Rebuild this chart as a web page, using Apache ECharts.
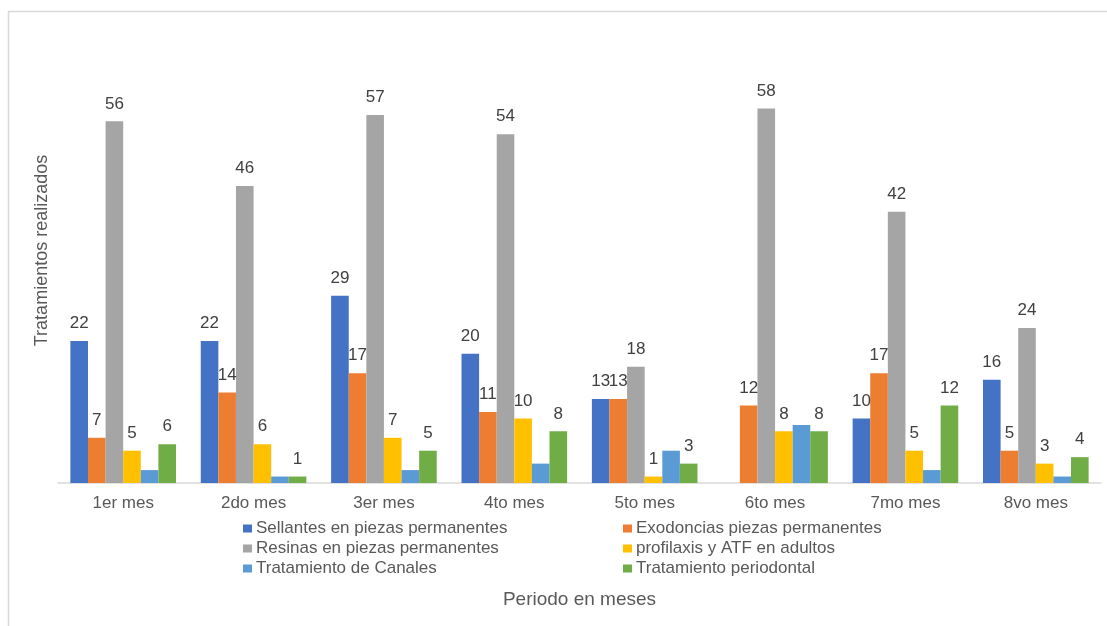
<!DOCTYPE html>
<html>
<head>
<meta charset="utf-8">
<script src="https://cdn.jsdelivr.net/npm/echarts@6/dist/echarts.min.js"></script>
<style>html,body{margin:0;padding:0;background:#fff;}#c{width:1107px;height:626px;}</style>
</head>
<body>
<div id="c"></div>
<script>
const categories = ['1er mes','2do mes','3er mes','4to mes','5to mes','6to mes','7mo mes','8vo mes'];
const seriesNames = ['Sellantes en piezas permanentes','Exodoncias piezas permanentes','Resinas en piezas permanentes','profilaxis y ATF en adultos','Tratamiento de Canales','Tratamiento periodontal'];
const sellantes = [22, 22, 29, 20, 13, null, 10, 16];
const exodoncias = [7, 14, 17, 11, 13, 12, 17, 5];
const resinas = [56, 46, 57, 54, 18, 58, 42, 24];
const profilaxis = [5, 6, 7, 10, 1, 8, 5, 3];
const canales = [2, 1, 2, 3, 5, 9, 2, 1];
const periodontal = [6, 1, 5, 8, 3, 8, 12, 4];
const colors = ['#4472C4','#ED7D31','#A5A5A5','#FFC000','#5B9BD5','#70AD47'];
const values = [sellantes, exodoncias, resinas, profilaxis, canales, periodontal];
const showLabel = [true, true, true, true, false, true];

const FONT = '"Liberation Sans", Arial, sans-serif';
const chart = echarts.init(document.getElementById('c'));
const legendText = { fontFamily: FONT, fontSize: 17, color: '#595959', lineHeight: 17, padding: [0,0,0,-1] };
chart.setOption({
  animation: false,
  backgroundColor: '#fff',
  color: colors,
  graphic: [{
    type: 'rect', silent: true, z: -1,
    shape: { x: 8.5, y: 11.5, width: 1200, height: 700 },
    style: { fill: 'none', stroke: '#d9d9d9', lineWidth: 1.5 }
  }],
  grid: { left: 58, right: 6, top: 18, bottom: 143, containLabel: false },
  legend: [
    {
      orient: 'vertical', left: 243, top: 520, itemWidth: 9, itemHeight: 8, itemGap: 3,
      icon: 'rect', padding: 0,
      data: [seriesNames[0], seriesNames[2], seriesNames[4]],
      textStyle: legendText
    },
    {
      orient: 'vertical', left: 623, top: 520, itemWidth: 9, itemHeight: 8, itemGap: 3,
      icon: 'rect', padding: 0,
      data: [seriesNames[1], seriesNames[3], seriesNames[5]],
      textStyle: legendText
    }
  ],
  xAxis: {
    type: 'category',
    data: categories,
    name: 'Periodo en meses',
    nameLocation: 'middle',
    nameGap: 107,
    nameTextStyle: { fontFamily: FONT, fontSize: 19, color: '#595959' },
    axisLine: { lineStyle: { color: '#d9d9d9', width: 1.5 } },
    axisTick: { show: false },
    axisLabel: { fontFamily: FONT, fontSize: 17, color: '#595959', margin: 12 }
  },
  yAxis: {
    type: 'value',
    min: 0, max: 72, interval: 8,
    name: 'Tratamientos realizados',
    nameLocation: 'middle',
    nameGap: 7,
    nameTextStyle: { fontFamily: FONT, fontSize: 18, color: '#595959' },
    axisLine: { show: false },
    axisTick: { show: false },
    axisLabel: { show: false },
    splitLine: { show: false }
  },
  series: seriesNames.map((n, i) => ({
    name: n,
    type: 'bar',
    data: values[i],
    barGap: '0%',
    barCategoryGap: '19%',
    itemStyle: { color: colors[i] },
    label: {
      show: showLabel[i], position: 'top', distance: 9,
      fontFamily: FONT, fontSize: 17, color: '#404040'
    }
  }))
});
</script>
</body>
</html>
